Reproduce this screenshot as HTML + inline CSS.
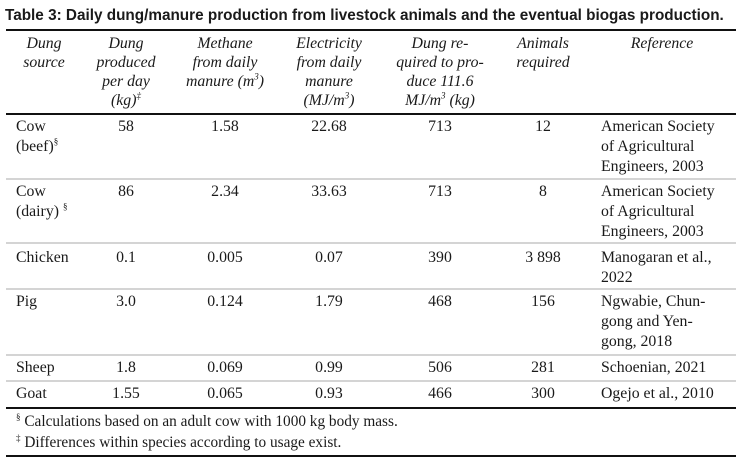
<!DOCTYPE html>
<html><head><meta charset="utf-8"><style>
body{margin:0;width:747px;height:467px;background:#fff;position:relative;overflow:hidden;font-family:"Liberation Serif","DejaVu Serif",serif;color:#1a1a1a}
.t{position:absolute;font-size:15.8px;line-height:20px;white-space:nowrap}
.c{transform:translateX(-50%);text-align:center}
.h{font-style:italic;line-height:19px}
.ln{position:absolute;left:6px;width:730px}
.blk{height:1.5px;background:#111}
.gr{height:2px;background:#d4d4d4}
sup{font-size:9px;line-height:0}
</style></head><body>
<div class="t" style="left:5px;top:6px;font-family:'Liberation Sans',sans-serif;font-weight:bold;font-size:15.3px;">Table 3: Daily dung/manure production from livestock animals and the eventual biogas production.</div>
<div class="ln blk" style="top:29px"></div>
<div class="ln blk" style="top:113px"></div>
<div class="ln gr" style="top:178px"></div>
<div class="ln gr" style="top:242px"></div>
<div class="ln gr" style="top:288px"></div>
<div class="ln gr" style="top:354px"></div>
<div class="ln gr" style="top:380px"></div>
<div class="ln blk" style="top:407px"></div>
<div class="ln blk" style="top:455px"></div>

<div class="t h c" style="left:44px;top:34px">Dung<br>source</div>
<div class="t h c" style="left:126px;top:34px">Dung<br>produced<br>per day<br>(kg)<sup>‡</sup></div>
<div class="t h c" style="left:225px;top:34px">Methane<br>from daily<br>manure (m<sup>3</sup>)</div>
<div class="t h c" style="left:329px;top:34px">Electricity<br>from daily<br>manure<br>(MJ/m<sup>3</sup>)</div>
<div class="t h c" style="left:440px;top:34px">Dung re-<br>quired to pro-<br>duce 111.6<br>MJ/m<sup>3</sup> (kg)</div>
<div class="t h c" style="left:543px;top:34px">Animals<br>required</div>
<div class="t h c" style="left:662px;top:34px">Reference</div>

<div class="t" style="left:16px;top:412px;font-size:15.3px"><sup>§</sup> Calculations based on an adult cow with 1000 kg body mass.</div>
<div class="t" style="left:16px;top:433px;font-size:15.3px"><sup>‡</sup> Differences within species according to usage exist.</div>
<script>
const sources=["Cow<br>(beef)<sup>§</sup>","Cow<br>(dairy) <sup>§</sup>","Chicken","Pig","Sheep","Goat"];
const produced=["58","86","0.1","3.0","1.8","1.55"];
const methane=["1.58","2.34","0.005","0.124","0.069","0.065"];
const electricity=["22.68","33.63","0.07","1.79","0.99","0.93"];
const required=["713","713","390","468","506","466"];
const animals=["12","8","3 898","156","281","300"];
const refs=["American Society<br>of Agricultural<br>Engineers, 2003","American Society<br>of Agricultural<br>Engineers, 2003","Manogaran et al.,<br>2022","Ngwabie, Chun-<br>gong and Yen-<br>gong, 2018","Schoenian, 2021","Ogejo et al., 2010"];
const rowTops=[117,182,248,292,358,384];
const cols=[[produced,126],[methane,225],[electricity,329],[required,440],[animals,543]];
const root=document.body;
function add(html,left,top,center){const d=document.createElement('div');d.className='t'+(center?' c':'');d.style.left=left+'px';d.style.top=top+'px';d.innerHTML=html;root.appendChild(d);return d;}
for(let i=0;i<sources.length;i++){
  const t=rowTops[i];
  const s=add(sources[i],16,t,false);
  
  
  cols.forEach(([arr,x])=>{const d=add(arr[i],x,t,true);
    
    });
  const r=add(refs[i],601,t,false);
  
  
}
</script>
</body></html>
